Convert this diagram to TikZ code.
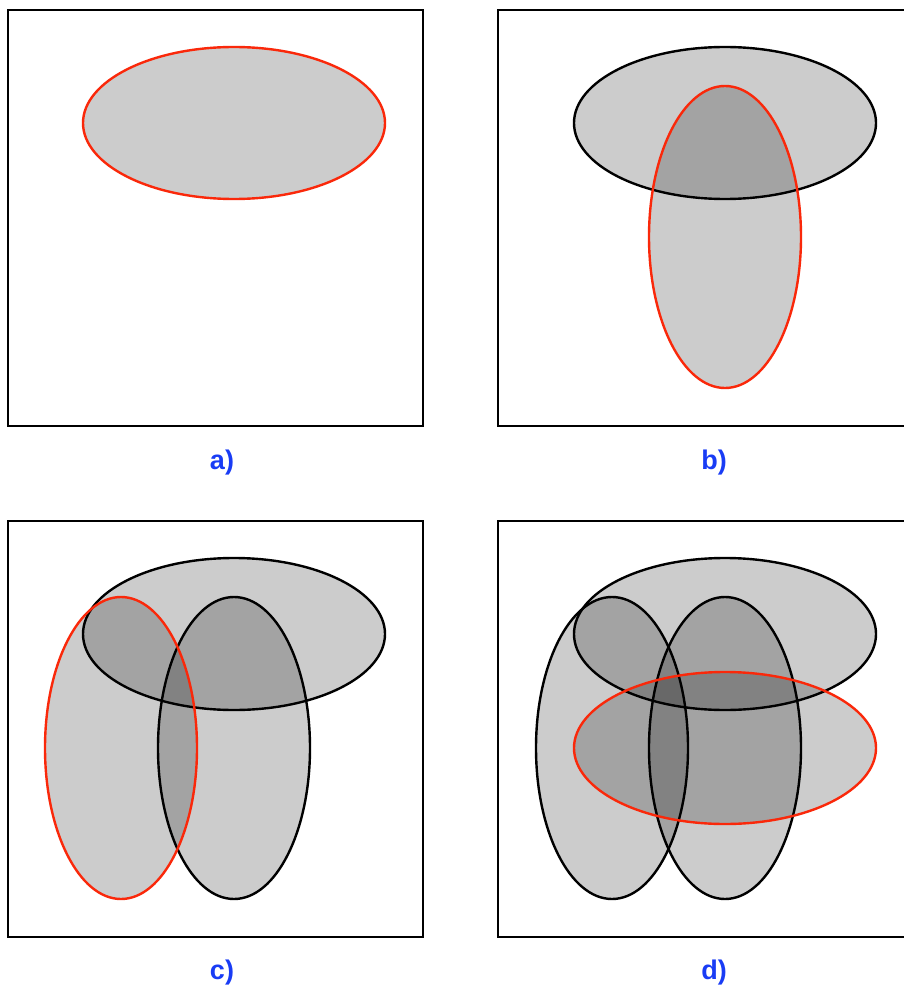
\documentclass[tikz,border=0pt]{standalone}
\usepackage{fontspec}
\setsansfont{Liberation Sans}
\definecolor{setred}{RGB}{250,40,10}
\definecolor{labblue}{RGB}{25,60,245}
\tikzset{
  panel/.style={draw=black,line width=2.8pt},
  blob/.style={fill=black,fill opacity=0.2,draw=black,line width=2.4pt},
  newblob/.style={blob,draw=setred},
  tag/.style={text=labblue,font=\sffamily\bfseries\fontsize{27}{30}\selectfont}
}
\begin{document}
\begin{tikzpicture}[x=1pt,y=-1pt]
\useasboundingbox (0,0) rectangle (903,992);
% a)
\draw[panel] (8,10) rectangle (423,426);
\draw[newblob] (234,123) ellipse (151 and 76);
\node[tag] (la) at (222,463) {a)};
% b)
\draw[panel] (498,10) rectangle (913,426);
\draw[blob] (725,123) ellipse (151 and 76);
\draw[newblob] (725,237) ellipse (76 and 151);
\node[tag] (lb) at (714,463) {b)};
% c)
\draw[panel] (8,521) rectangle (423,937);
\draw[blob] (234,634) ellipse (151 and 76);
\draw[blob] (234,748) ellipse (76 and 151);
\draw[newblob] (121,748) ellipse (76 and 151);
\node[tag] (lc) at (222,973) {c)};
% d)
\draw[panel] (498,521) rectangle (913,937);
\draw[blob] (725,634) ellipse (151 and 76);
\draw[blob] (612,748) ellipse (76 and 151);
\draw[blob] (725,748) ellipse (76 and 151);
\draw[newblob] (725,748) ellipse (151 and 76);
\node[tag] (ld) at (714,973) {d)};
\end{tikzpicture}
\end{document}
